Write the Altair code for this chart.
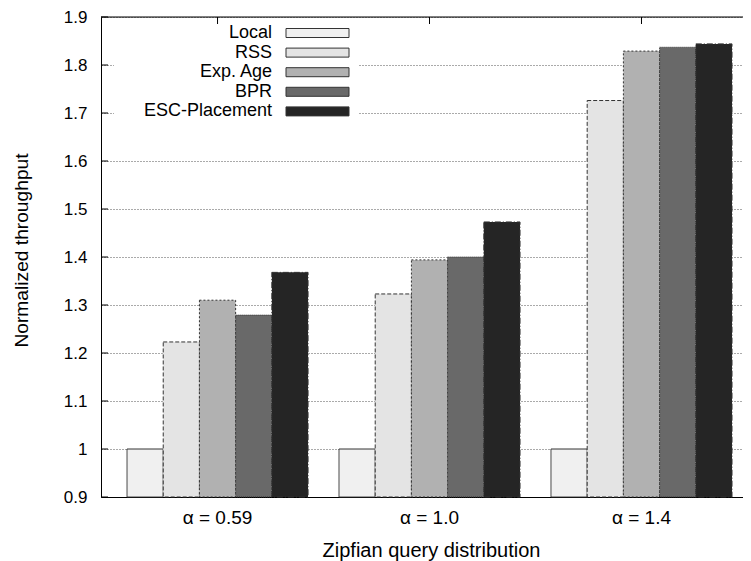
import altair as alt
import pandas as pd

groups = ["α = 0.59", "α = 1.0", "α = 1.4"]
series = ["Local", "RSS", "Exp. Age", "BPR", "ESC-Placement"]
local_vals = [1.0, 1.0, 1.0]
rss_vals = [1.223, 1.323, 1.726]
expage_vals = [1.310, 1.394, 1.829]
bpr_vals = [1.279, 1.400, 1.837]
esc_vals = [1.368, 1.473, 1.844]
y_ticks = [0.9, 1.0, 1.1, 1.2, 1.3, 1.4, 1.5, 1.6, 1.7, 1.8, 1.9]

fills = ["#f0f0f0", "#e4e4e4", "#b1b1b1", "#696969", "#252525"]
dashes = [[1, 0], [4, 2], [2, 2], [1, 1], [6, 2, 1, 2]]

rows = []
for s, vals in zip(series, [local_vals, rss_vals, expage_vals, bpr_vals, esc_vals]):
    for g, v in zip(groups, vals):
        rows.append({"group": g, "series": s, "value": v})
df = pd.DataFrame(rows)
leg_df = pd.DataFrame({"series": series})
tick_df = pd.DataFrame({"value": y_ticks})
grp_df = pd.DataFrame({"group": groups})
one_df = pd.DataFrame({"k": [0]})

FONT = "Liberation Sans"
W, H = 642, 480

yscale = alt.Scale(domain=[0.9, 1.9], nice=False, zero=False)
xscale = alt.Scale(domain=groups, paddingInner=0.146, paddingOuter=0.0873, align=0.703)
fill_enc = alt.Fill("series:N", scale=alt.Scale(domain=series, range=fills), legend=None)
dash_enc = alt.StrokeDash("series:N", scale=alt.Scale(domain=series, range=dashes), legend=None)

x_enc = alt.X("group:N", sort=groups, scale=xscale,
              axis=alt.Axis(title="Zipfian query distribution", labelAngle=0, ticks=False, tickSize=0,
                            labelPadding=11, labelFontSize=19, labelFont=FONT, labelColor="#000",
                            titleFont=FONT, titleFontSize=20, titleFontWeight="normal", titleColor="#000",
                            titleX=330, titleY=53, titleBaseline="middle", titleAlign="center",
                            domainColor="#000", domainWidth=1))
y_enc = alt.Y("value:Q", scale=yscale,
              axis=alt.Axis(title="Normalized throughput", values=y_ticks, ticks=False, tickSize=0,
                            labelPadding=14, labelFontSize=17, labelFont=FONT, labelColor="#000",
                            labelExpr="datum.value == 1 ? '1' : format(datum.value, '.1f')",
                            grid=True, gridColor="#555555", gridDash=[1, 2], gridWidth=1,
                            titleFont=FONT, titleFontSize=19.2, titleFontWeight="normal", titleColor="#000",
                            titleX=-80, titleY=233, titleBaseline="middle", titleAlign="center",
                            domainColor="#000", domainWidth=1))

bars = alt.Chart(df).mark_bar(stroke="#333333", strokeWidth=1).encode(
    x=x_enc,
    xOffset=alt.XOffset("series:N", sort=series, scale=alt.Scale(domain=series, paddingInner=0, paddingOuter=0)),
    y=y_enc,
    y2=alt.datum(0.9),
    fill=fill_enc,
    strokeDash=dash_enc,
)

left_ticks = alt.Chart(tick_df).mark_rule(color="#000", strokeWidth=1).encode(
    y=y_enc,
    x=alt.value(0), x2=alt.value(7),
)

top_border = alt.Chart(one_df).mark_rule(color="#000", strokeWidth=1).encode(
    y=alt.value(0), x=alt.value(0), x2=alt.value(W),
)

top_ticks = alt.Chart(grp_df).mark_rule(color="#000", strokeWidth=1).encode(
    x=x_enc,
    y=alt.value(0), y2=alt.value(7),
)

main = alt.layer(bars, left_ticks, top_border, top_ticks)

leg_box = alt.Chart(one_df).mark_rect(fill="white").encode(
    x=alt.value(13), x2=alt.value(258), y=alt.value(9), y2=alt.value(104),
)

leg_y = alt.Y("series:N", sort=series,
              scale=alt.Scale(domain=series, range=[11.5, 98.9], paddingInner=0.54, paddingOuter=0),
              axis=None)

leg_rect = alt.Chart(leg_df).mark_rect(stroke="#333333", strokeWidth=1).encode(
    x=alt.value(185), x2=alt.value(248),
    y=leg_y,
    fill=fill_enc,
    strokeDash=dash_enc,
)

leg_text = alt.Chart(leg_df).mark_text(align="right", baseline="middle", font=FONT,
                                       fontSize=18, color="#000").encode(
    x=alt.value(171),
    y=leg_y,
    text="series:N",
)

legend = alt.layer(leg_box, leg_rect, leg_text)

chart = alt.layer(main, legend).resolve_scale(y="independent").properties(
    width=W, height=H,
    autosize=alt.AutoSizeParams(type="none"),
    padding={"left": 93, "top": 9, "right": 0, "bottom": 64},
).configure_view(stroke=None).configure(background="white")

chart.save("out.html", embed_options={"renderer": "svg", "actions": False})
